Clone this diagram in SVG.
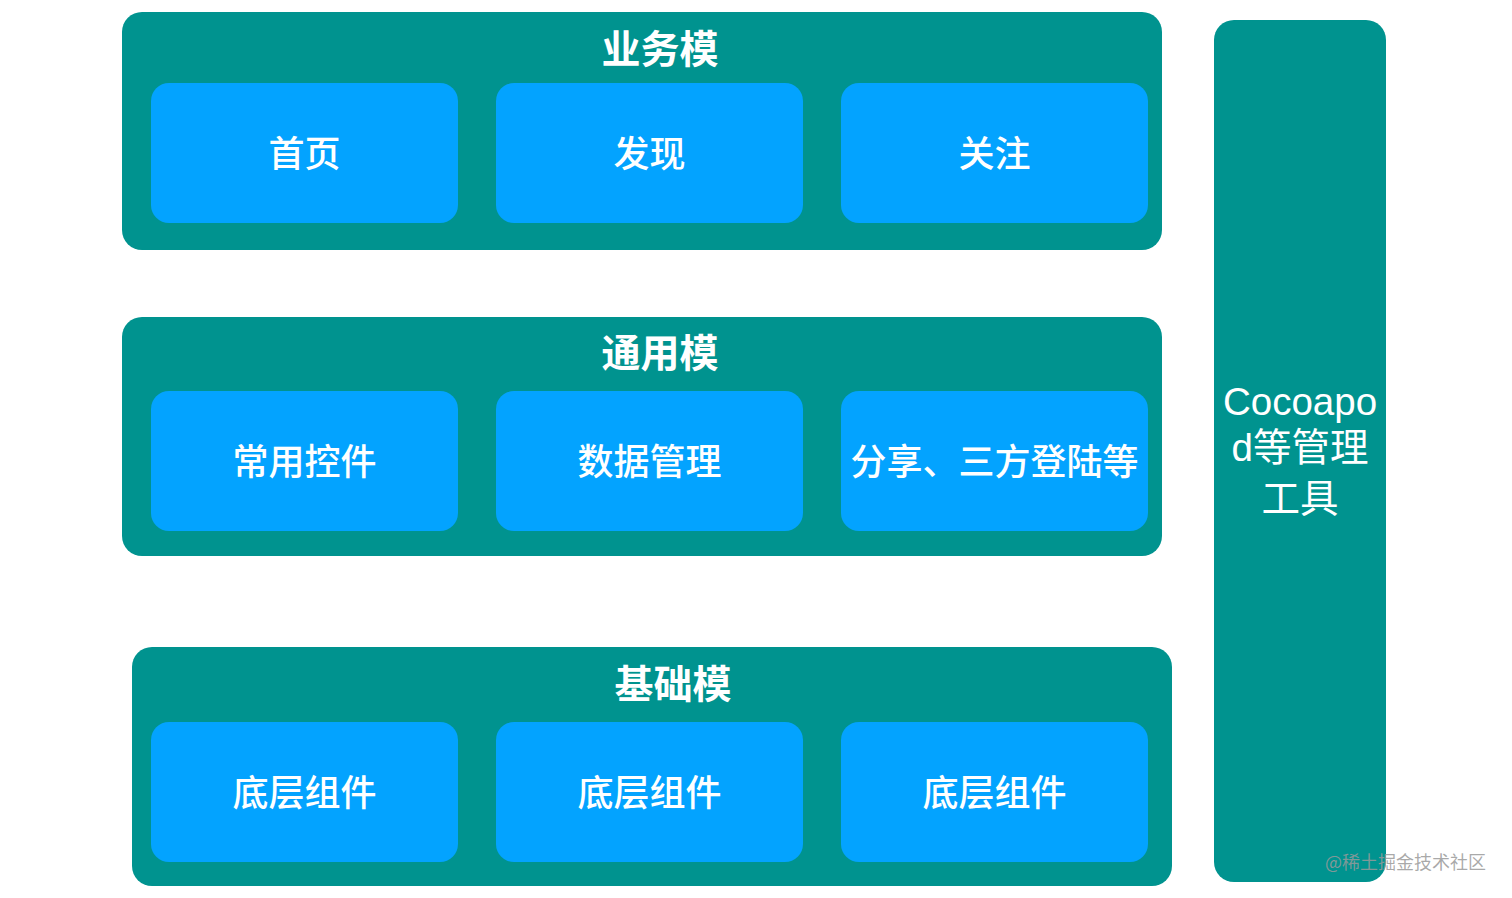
<svg xmlns="http://www.w3.org/2000/svg" width="1512" height="898" viewBox="0 0 1512 898">
<style>
.group{fill:#00938F}
.box{fill:#03A3FF}
.title{font-family:"Noto Sans CJK SC","Noto Sans",sans-serif;font-size:39px;font-weight:bold;fill:#ffffff;text-anchor:middle}
.label{font-family:"Noto Sans CJK SC","Noto Sans",sans-serif;font-size:36px;font-weight:500;fill:#ffffff;text-anchor:middle}
.side{font-family:"Liberation Sans","Noto Sans CJK SC",sans-serif;font-size:38.5px;fill:#ffffff;text-anchor:middle}
.wm{font-family:"Noto Sans CJK SC",sans-serif;font-size:18px;fill:#9a9a9a;fill-opacity:0.85}
</style>
<rect width="1512" height="898" fill="#ffffff"/>
<g id="business">
<rect class="group" x="122" y="12" width="1040" height="238" rx="20"/>
<text class="title" x="660" y="63">业务模</text>
<g id="home"><rect class="box" x="151" y="83" width="307" height="140" rx="18"/><text class="label" x="304.5" y="167">首页</text></g>
<g id="discover"><rect class="box" x="496" y="83" width="307" height="140" rx="18"/><text class="label" x="649.5" y="167">发现</text></g>
<g id="follow"><rect class="box" x="841" y="83" width="307" height="140" rx="18"/><text class="label" x="994.5" y="167">关注</text></g>
</g>
<g id="common">
<rect class="group" x="122" y="317" width="1040" height="239" rx="20"/>
<text class="title" x="660" y="367">通用模</text>
<g id="controls"><rect class="box" x="151" y="391" width="307" height="140" rx="18"/><text class="label" x="304.5" y="475">常用控件</text></g>
<g id="data"><rect class="box" x="496" y="391" width="307" height="140" rx="18"/><text class="label" x="649.5" y="475">数据管理</text></g>
<g id="share"><rect class="box" x="841" y="391" width="307" height="140" rx="18"/><text class="label" x="994.5" y="475">分享、三方登陆等</text></g>
</g>
<g id="base">
<rect class="group" x="132" y="647" width="1040" height="239" rx="20"/>
<text class="title" x="673" y="698">基础模</text>
<g id="base1"><rect class="box" x="151" y="722" width="307" height="140" rx="18"/><text class="label" x="304.5" y="806">底层组件</text></g>
<g id="base2"><rect class="box" x="496" y="722" width="307" height="140" rx="18"/><text class="label" x="649.5" y="806">底层组件</text></g>
<g id="base3"><rect class="box" x="841" y="722" width="307" height="140" rx="18"/><text class="label" x="994.5" y="806">底层组件</text></g>
</g>
<g id="tool">
<rect class="group" x="1214" y="20" width="172" height="862" rx="20"/>
<text class="side" x="1300" y="415">Cocoapo</text>
<text class="side" x="1300" y="461">d等管理</text>
<text class="side" x="1300" y="512">工具</text>
</g>
<g id="connectors"></g>
<text class="wm" x="1325" y="869">@稀土掘金技术社区</text>
</svg>
